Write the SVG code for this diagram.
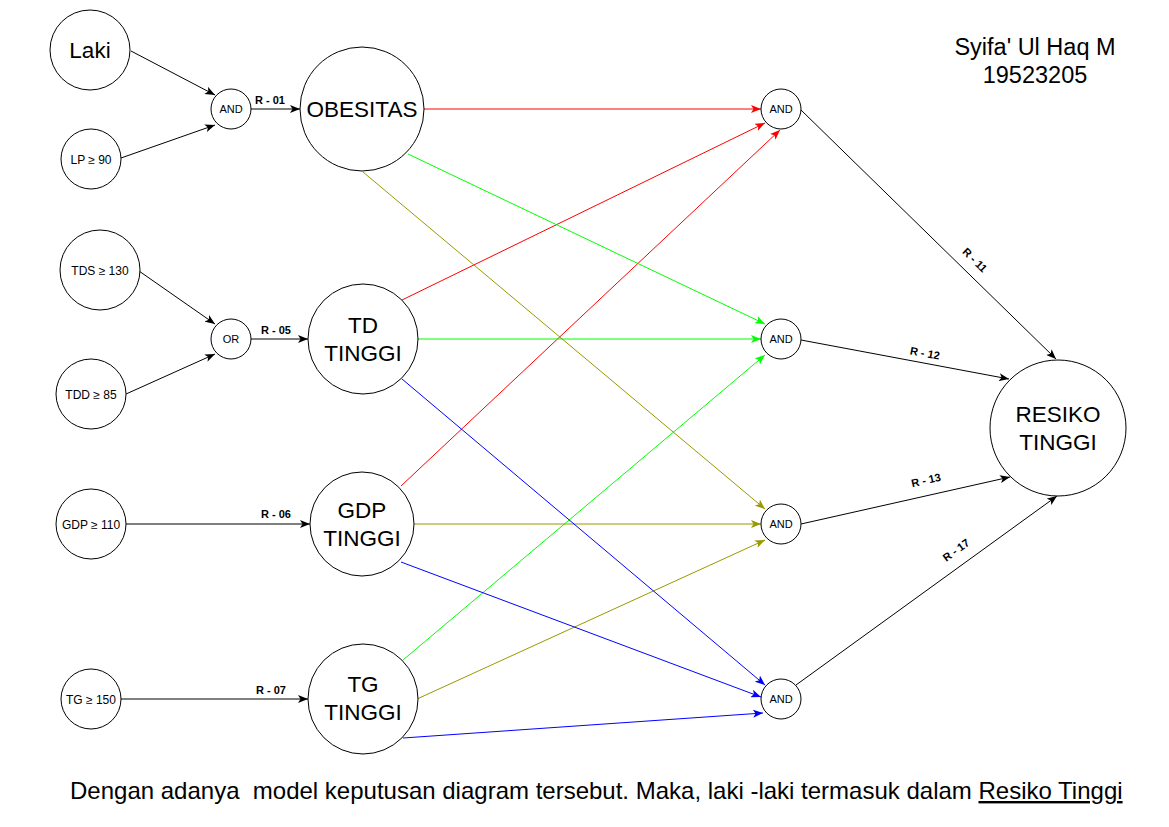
<svg xmlns="http://www.w3.org/2000/svg" width="1169" height="827" viewBox="0 0 1169 827">
<style>
.n{fill:#fff;stroke:#000;stroke-width:1}
text{font-family:"Liberation Sans",Arial,sans-serif;fill:#000}
.big{font-size:22.5px;text-anchor:middle}
.sm{font-size:12px;text-anchor:middle}
.gate{font-size:11px;text-anchor:middle}
.lbl{font-size:11px;font-weight:bold;text-anchor:middle}
.e{fill:none;stroke-width:1}
.k{stroke:#000;marker-end:url(#mk)}
.r{stroke:#ff0000;marker-end:url(#mr)}
.g{stroke:#00ff00;marker-end:url(#mg)}
.o{stroke:#999900;marker-end:url(#mo)}
.b{stroke:#0000ff;marker-end:url(#mb)}
</style>
<defs>
<marker id="mk" markerUnits="userSpaceOnUse" markerWidth="10" markerHeight="8" refX="10" refY="4" orient="auto"><path d="M0,0 L10,4 L0,8 L2.5,4 Z" fill="#000"/></marker>
<marker id="mr" markerUnits="userSpaceOnUse" markerWidth="10" markerHeight="8" refX="10" refY="4" orient="auto"><path d="M0,0 L10,4 L0,8 L2.5,4 Z" fill="#ff0000"/></marker>
<marker id="mg" markerUnits="userSpaceOnUse" markerWidth="10" markerHeight="8" refX="10" refY="4" orient="auto"><path d="M0,0 L10,4 L0,8 L2.5,4 Z" fill="#00ff00"/></marker>
<marker id="mo" markerUnits="userSpaceOnUse" markerWidth="10" markerHeight="8" refX="10" refY="4" orient="auto"><path d="M0,0 L10,4 L0,8 L2.5,4 Z" fill="#999900"/></marker>
<marker id="mb" markerUnits="userSpaceOnUse" markerWidth="10" markerHeight="8" refX="10" refY="4" orient="auto"><path d="M0,0 L10,4 L0,8 L2.5,4 Z" fill="#0000ff"/></marker>
</defs>
<rect width="1169" height="827" fill="#fff"/>

<g id="connectors">
<line class="e k" x1="131" y1="51" x2="215" y2="95"/>
<line class="e k" x1="121" y1="158" x2="215" y2="125"/>
<line class="e k" x1="251" y1="109" x2="300" y2="109"/>
<line class="e k" x1="139" y1="271" x2="215" y2="324"/>
<line class="e k" x1="126" y1="394" x2="215" y2="354"/>
<line class="e k" x1="251" y1="339" x2="308" y2="339"/>
<line class="e k" x1="126" y1="524" x2="310" y2="524"/>
<line class="e k" x1="121" y1="699" x2="308" y2="699"/>

<line class="e r" x1="424" y1="109" x2="761" y2="109"/>
<line class="e r" x1="402" y1="300" x2="765" y2="123"/>
<line class="e r" x1="401" y1="486" x2="780" y2="130"/>

<line class="e g" x1="408" y1="154" x2="765" y2="324"/>
<line class="e g" x1="418" y1="339" x2="761" y2="339"/>
<line class="e g" x1="403" y1="660" x2="765" y2="355"/>

<line class="e o" x1="363" y1="172" x2="765" y2="509"/>
<line class="e o" x1="414" y1="524" x2="761" y2="524"/>
<line class="e o" x1="417" y1="699" x2="765" y2="540"/>

<line class="e b" x1="402" y1="379" x2="765" y2="685"/>
<line class="e b" x1="401" y1="562" x2="761" y2="697"/>
<line class="e b" x1="403" y1="738" x2="763" y2="713"/>

<line class="e k" x1="801" y1="110" x2="1056" y2="359"/>
<line class="e k" x1="801" y1="340" x2="1009" y2="379"/>
<line class="e k" x1="801" y1="524" x2="1010" y2="477"/>
<line class="e k" x1="796" y1="685" x2="1057" y2="496"/>

<text class="lbl" x="270" y="104">R - 01</text>
<text class="lbl" x="276" y="334">R - 05</text>
<text class="lbl" x="276" y="518">R - 06</text>
<text class="lbl" x="271" y="694">R - 07</text>
<text class="lbl" transform="translate(975,260) rotate(44.3)" x="0" y="4">R - 11</text>
<text class="lbl" transform="translate(925,353) rotate(10.6)" x="0" y="4">R - 12</text>
<text class="lbl" transform="translate(926,480) rotate(-12.7)" x="0" y="4">R - 13</text>
<text class="lbl" transform="translate(956,550) rotate(-35.8)" x="0" y="4">R - 17</text>
</g>

<g id="laki"><circle class="n" cx="90" cy="50" r="40"/><text class="big" x="90" y="58">Laki</text></g>
<g id="lp90"><circle class="n" cx="91" cy="159" r="30"/><text class="sm" x="91" y="163.5">LP ≥ 90</text></g>
<g id="and1"><circle class="n" cx="231" cy="109" r="20"/><text class="gate" x="231" y="113">AND</text></g>
<g id="obesitas"><circle class="n" cx="362" cy="109" r="62"/><text class="big" x="362" y="117">OBESITAS</text></g>

<g id="tds130"><circle class="n" cx="100" cy="270" r="40"/><text class="sm" x="100" y="274.5">TDS ≥ 130</text></g>
<g id="tdd85"><circle class="n" cx="91" cy="394" r="35"/><text class="sm" x="91" y="398.5">TDD ≥ 85</text></g>
<g id="or1"><circle class="n" cx="231" cy="339" r="20"/><text class="gate" x="231" y="343">OR</text></g>
<g id="tdtinggi"><circle class="n" cx="363" cy="339" r="55"/><text class="big" x="363" y="333">TD</text><text class="big" x="363" y="361">TINGGI</text></g>

<g id="gdp110"><circle class="n" cx="91" cy="524" r="35"/><text class="sm" x="91" y="528.5">GDP ≥ 110</text></g>
<g id="gdptinggi"><circle class="n" cx="362" cy="524" r="52"/><text class="big" x="362" y="518">GDP</text><text class="big" x="362" y="546">TINGGI</text></g>

<g id="tg150"><circle class="n" cx="91" cy="699" r="30"/><text class="sm" x="91" y="703.5">TG ≥ 150</text></g>
<g id="tgtinggi"><circle class="n" cx="363" cy="699" r="55"/><text class="big" x="363" y="692">TG</text><text class="big" x="363" y="720">TINGGI</text></g>

<g id="and_a"><circle class="n" cx="781" cy="109" r="20"/><text class="gate" x="781" y="113">AND</text></g>
<g id="and_b"><circle class="n" cx="781" cy="339" r="20"/><text class="gate" x="781" y="343">AND</text></g>
<g id="and_c"><circle class="n" cx="781" cy="524" r="20"/><text class="gate" x="781" y="528">AND</text></g>
<g id="and_d"><circle class="n" cx="781" cy="699" r="20"/><text class="gate" x="781" y="703">AND</text></g>

<g id="resiko"><circle class="n" cx="1058" cy="428" r="68"/><text class="big" x="1058" y="422">RESIKO</text><text class="big" x="1058" y="450">TINGGI</text></g>

<g id="author"><text style="font-size:23.5px;text-anchor:middle" x="1035" y="55">Syifa' Ul Haq M</text><text style="font-size:23.5px;text-anchor:middle" x="1035" y="83">19523205</text></g>

<g id="caption"><text style="font-size:24px;white-space:pre" x="70" y="799" xml:space="preserve">Dengan adanya  model keputusan diagram tersebut. Maka, laki -laki termasuk dalam <tspan text-decoration="underline">Resiko Tinggi</tspan></text></g>
</svg>
